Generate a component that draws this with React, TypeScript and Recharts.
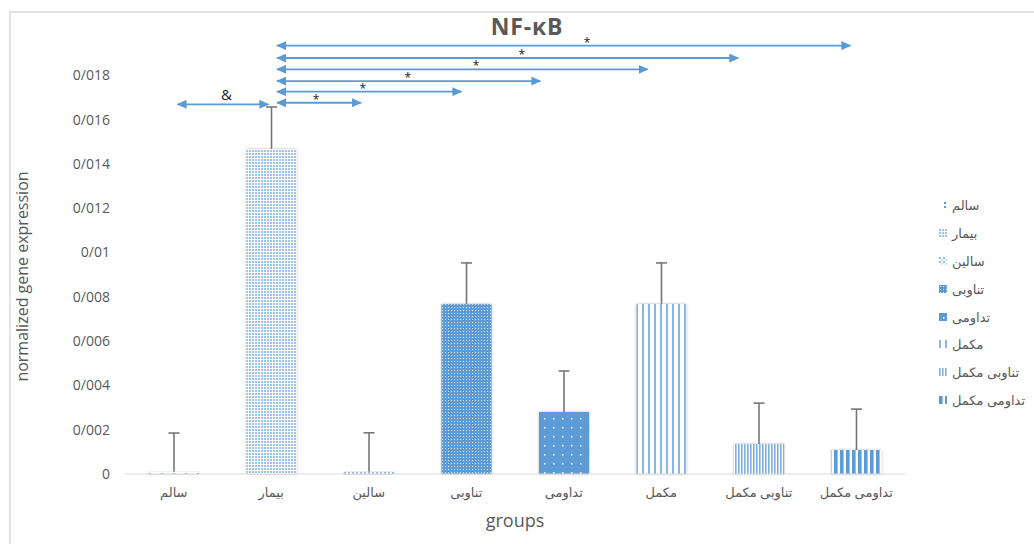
import { BarChart, Bar, XAxis, YAxis, Cell, ReferenceLine, ReferenceDot, Label } from 'recharts'

document.body.style.margin = '0'

/* ── Data ───────────────────────────────────────────────────────────── */

const GROUPS = ['سالم', 'بیمار', 'سالین', 'تناوبی', 'تداومی', 'مکمل', 'تناوبی مکمل', 'تداومی مکمل']
const MEANS = [0.0001, 0.01467, 0.0001, 0.00767, 0.0028, 0.00767, 0.00135, 0.00108]
const UPPER_ERR = [0.00175, 0.0019, 0.00176, 0.00186, 0.00185, 0.00186, 0.00185, 0.00185]
const Y_TICKS = [0, 0.002, 0.004, 0.006, 0.008, 0.01, 0.012, 0.014, 0.016, 0.018]

// significance arrows, in category units (0..8) on a hidden numeric x axis
const SIG_FROM = [1.56, 1.56, 1.56, 1.56, 1.56, 1.56, 0.54]
const SIG_TO = [2.42, 3.45, 4.26, 5.36, 6.29, 7.44, 1.47]
const SIG_Y = [0.01676, 0.01726, 0.01774, 0.01827, 0.01878, 0.01934, 0.01669]
const SIG_MARK_X = [1.96, 2.44, 2.9, 3.6, 4.07, 4.74, 1.04]
const SIG_MARK = ['*', '*', '*', '*', '*', '*', '&']

const BLUE = '#5b9bd5'
const GREY = '#595959'
const FONT = "'Open Sans', 'DejaVu Sans', sans-serif"

const data = GROUPS.map((g, i) => ({ group: g, pos: i + 0.5, mean: MEANS[i], err: UPPER_ERR[i] }))

/* ── Pattern fills (Excel-like) ─────────────────────────────────────── */

function Patterns() {
  return (
    <svg width={0} height={0} style={{ position: 'absolute' }}>
      <defs>
        <pattern id="p0" width={12} height={4} patternUnits="userSpaceOnUse">
          <rect width={12} height={4} fill="#fff" />
          <rect x={5} y={1} width={2} height={2} fill={BLUE} />
        </pattern>
        <pattern id="p1" width={3} height={3} patternUnits="userSpaceOnUse">
          <rect width={3} height={3} fill="#fff" />
          <rect width={2} height={2} fill="#9cc3eb" />
        </pattern>
        <pattern id="p2" width={4} height={4} patternUnits="userSpaceOnUse">
          <rect width={4} height={4} fill="#fff" />
          <rect width={2} height={2} fill="#8fbbe6" />
          <rect x={2} y={2} width={2} height={2} fill="#c6dcf2" />
        </pattern>
        <pattern id="p3" width={3} height={3} patternUnits="userSpaceOnUse">
          <rect width={3} height={3} fill={BLUE} />
          <rect x={1} y={1} width={1} height={1} fill="#dbe8f6" />
        </pattern>
        <pattern id="p4" width={9} height={9} patternUnits="userSpaceOnUse">
          <rect width={9} height={9} fill={BLUE} />
          <rect x={4} y={4} width={1.5} height={1.5} fill="#fff" />
        </pattern>
        <pattern id="p5" width={6} height={6} patternUnits="userSpaceOnUse">
          <rect width={6} height={6} fill="#fff" />
          <rect width={2} height={6} fill="#86b6e6" />
        </pattern>
        <pattern id="p6" width={3} height={3} patternUnits="userSpaceOnUse">
          <rect width={3} height={3} fill="#fff" />
          <rect width={1.6} height={3} fill="#7eb0e3" />
        </pattern>
        <pattern id="p7" width={6} height={6} patternUnits="userSpaceOnUse">
          <rect width={6} height={6} fill="#fff" />
          <rect width={3.6} height={6} fill={BLUE} />
        </pattern>
        <filter id="shadow" x="-20%" y="-5%" width="140%" height="110%">
          <feDropShadow dx={0} dy={0} stdDeviation={1.3} floodColor="#000" floodOpacity={0.35} />
        </filter>
        <marker
          id="arrow"
          viewBox="0 0 10 9"
          refX={9}
          refY={4.5}
          markerWidth={10}
          markerHeight={9}
          markerUnits="userSpaceOnUse"
          orient="auto-start-reverse"
        >
          <path d="M0,0 L10,4.5 L0,9 z" fill={BLUE} />
        </marker>
      </defs>
    </svg>
  )
}

/* ── Shapes ─────────────────────────────────────────────────────────── */

function PatternBar(props: any) {
  const { x, y, width, height, fill } = props
  if (!height) return null
  return <rect x={x} y={y} width={width} height={height} fill={fill} filter="url(#shadow)" />
}

function ErrorWhisker(props: any) {
  const { x, y, width, height } = props
  const cx = x + width / 2
  return (
    <g stroke="#777" strokeWidth={1.6}>
      <line x1={cx} y1={y} x2={cx} y2={y + height} />
      <line x1={cx - 5.5} y1={y} x2={cx + 5.5} y2={y} />
    </g>
  )
}

function ArrowLine(props: any) {
  const { x1, y1, x2, y2 } = props
  return (
    <line
      x1={x1}
      y1={y1}
      x2={x2}
      y2={y2}
      stroke={BLUE}
      strokeWidth={1.8}
      markerStart="url(#arrow)"
      markerEnd="url(#arrow)"
    />
  )
}

const yTickFormat = (v: number) => (v === 0 ? '0' : String(v).replace('.', '/'))

/* ── Legend ─────────────────────────────────────────────────────────── */

function SideLegend() {
  return (
    <div style={{ position: 'absolute', left: 939, top: 191, fontFamily: FONT, fontSize: 13, color: GREY }}>
      {GROUPS.map((g, i) => (
        <div key={g} style={{ display: 'flex', alignItems: 'center', height: 27.9 }}>
          <svg width={8} height={8} style={{ marginRight: 5 }}>
            <rect width={8} height={8} fill={`url(#p${i})`} />
          </svg>
          <span>{g}</span>
        </div>
      ))}
    </div>
  )
}

/* ── Component ──────────────────────────────────────────────────────── */

export default function App() {
  return (
    <div style={{ position: 'relative', width: 1034, height: 544, background: '#fff', overflow: 'hidden' }}>
      <Patterns />
      <div
        style={{
          position: 'absolute',
          left: 9,
          top: 11,
          width: 1030,
          height: 540,
          borderTop: '2px solid #e3e3e3',
          borderLeft: '2px solid #e3e3e3',
        }}
      />
      <div
        style={{
          position: 'absolute',
          left: 0,
          width: 1054,
          top: 10,
          textAlign: 'center',
          fontFamily: FONT,
          fontWeight: 700,
          fontSize: 23,
          letterSpacing: 0.8,
          color: GREY,
        }}
      >
        NF-κB
      </div>

      <BarChart
        width={1034}
        height={544}
        data={data}
        margin={{ top: 31, right: 129, bottom: 14, left: 10 }}
        style={{ position: 'absolute', left: 0, top: 0, fontFamily: FONT }}
      >
        <XAxis
          dataKey="group"
          height={56}
          tickLine={false}
          axisLine={{ stroke: '#d9d9d9' }}
          tick={{ fill: GREY, fontSize: 13 }}
          tickMargin={8}
          interval={0}
        >
          <Label value="groups" position="insideBottom" offset={3} fill={GREY} fontSize={18} />
        </XAxis>
        <XAxis xAxisId="n" dataKey="pos" type="number" scale="linear" domain={[0, 8]} allowDataOverflow hide />
        <YAxis
          width={115}
          domain={[0, 0.02]}
          ticks={Y_TICKS}
          tickFormatter={yTickFormat}
          axisLine={false}
          tickLine={false}
          tickMargin={9}
          tick={{ fill: GREY, fontSize: 14 }}
          label={{
            content: ({ viewBox }: any) => {
              const cx = viewBox.x + 12
              const cy = viewBox.y + viewBox.height / 2 + 24
              return (
                <text
                  x={cx}
                  y={cy}
                  transform={`rotate(-90 ${cx} ${cy})`}
                  textAnchor="middle"
                  dominantBaseline="central"
                  fill={GREY}
                  fontSize={16}
                >
                  normalized gene expression
                </text>
              )
            },
          }}
        />

        <Bar dataKey="mean" stackId="s" barSize={50} shape={PatternBar} isAnimationActive={false}>
          {data.map((d, i) => (
            <Cell key={d.group} fill={`url(#p${i})`} />
          ))}
        </Bar>
        <Bar dataKey="err" stackId="s" barSize={50} shape={ErrorWhisker} isAnimationActive={false} />

        {SIG_Y.map((yv, i) => (
          <ReferenceLine
            key={`l${i}`}
            xAxisId="n"
            segment={[
              { x: SIG_FROM[i], y: yv },
              { x: SIG_TO[i], y: yv },
            ]}
            shape={ArrowLine}
          />
        ))}
        {SIG_Y.map((yv, i) => (
          <ReferenceDot
            key={`m${i}`}
            xAxisId="n"
            x={SIG_MARK_X[i]}
            y={yv}
            shape={(p: any) => (
              <text
                x={p.cx}
                y={SIG_MARK[i] === '&' ? p.cy - 4 : p.cy + 1}
                textAnchor="middle"
                fill="#222"
                fontSize={SIG_MARK[i] === '&' ? 15 : 12}
              >
                {SIG_MARK[i]}
              </text>
            )}
          />
        ))}
      </BarChart>

      <SideLegend />
    </div>
  )
}
